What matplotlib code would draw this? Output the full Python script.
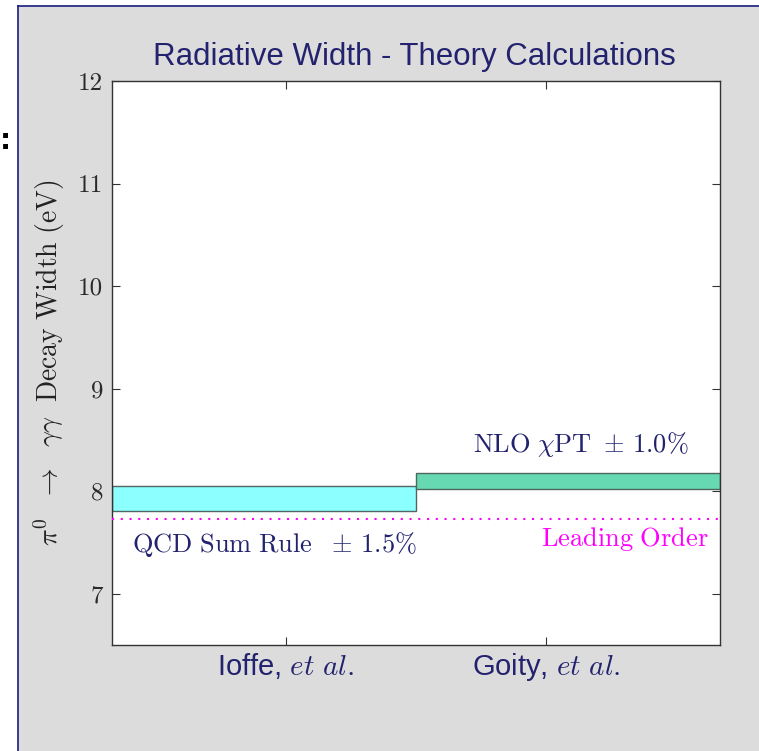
import matplotlib
matplotlib.use("Agg")
import matplotlib.pyplot as plt
from matplotlib.patches import Rectangle
from matplotlib.lines import Line2D
import numpy as np

plt.rcParams['mathtext.fontset'] = 'cm'

# ---- data ----
categories = [r'Ioffe, $et\ al.$', r'Goity, $et\ al.$']
central = [7.93, 8.10]
errors = [0.12, 0.08]
box_labels = [r'$\mathrm{QCD\ Sum\ Rule}\ \ \pm\,1.5\%$', r'$\mathrm{NLO}\ \chi\mathrm{PT}\ \pm\,1.0\%$']
leading_order = 7.725
leading_label = r'$\mathrm{Leading\ Order}$'
yticks = [7, 8, 9, 10, 11, 12]
title = 'Radiative Width - Theory Calculations'
ylabel = r'$\pi^0\ \ \rightarrow\ \ \gamma\gamma\ \ \mathrm{Decay\ Width\ (eV)}$'

# ---- layout ----
W, H = 759, 751
fig = plt.figure(figsize=(W / 100, H / 100), dpi=100, facecolor='white')

navy = '#22226e'
# gray panel
fig.patches.append(Rectangle((17.5 / W, -0.01), 1.0, 1 - 6 / H + 0.01,
                             transform=fig.transFigure, facecolor='#dcdcdc',
                             edgecolor='none', zorder=-2))
fig.lines.append(Line2D([17.5 / W, 17.5 / W], [0, 1 - 6 / H], transform=fig.transFigure,
                        color='#1a1a80', lw=1.2, zorder=-1))
fig.lines.append(Line2D([17.5 / W, 1], [1 - 6 / H, 1 - 6 / H], transform=fig.transFigure,
                        color='#1a1a80', lw=1.2, zorder=-1))
fig.text(0.0, 1 - 141 / H, ':', fontsize=20, fontweight='bold', color='black',
         va='center', ha='left')

ax = fig.add_axes([111.7 / W, 1 - 645 / H, (720 - 111.7) / W, (645 - 81) / H])
ax.set_zorder(1)
ax.set_facecolor('white')

edges = [0, 3.5, 7]
tick_pos = [2, 5]
colors = ['#8cffff', '#66d9b2']
for i in range(2):
    ax.bar(edges[i], 2 * errors[i], bottom=central[i] - errors[i],
           width=edges[i + 1] - edges[i], align='edge', color=colors[i],
           edgecolor='#4f6662', linewidth=1.0, zorder=2)

ax.axhline(leading_order, color='#ff00ff', linestyle=(0, (1, 3.2)), lw=1.5, zorder=3)

ax.set_xlim(0, 7)
ax.set_ylim(6.5, 12)
ax.set_yticks(yticks)
ax.set_yticklabels([str(v) for v in yticks], fontfamily='cmr10', fontsize=18, color='#2a2a2a')
ax.set_xticks(tick_pos)
ax.set_xticklabels(categories, fontfamily='Liberation Sans', fontsize=21, color=navy)
ax.tick_params(axis='both', direction='in', top=True, right=True, length=6, width=0.8,
               color='#333333')
ax.tick_params(axis='y', pad=6)
ax.tick_params(axis='x', pad=4)
for s in ax.spines.values():
    s.set_color('#333333')
    s.set_linewidth(1.0)

ax.set_ylabel(ylabel, fontsize=20, color='#222222', labelpad=8)

yt = ax.get_yaxis_transform()
ax.text(0.033, 7.405, box_labels[0], transform=yt, fontsize=19, color=navy,
        ha='left', va='baseline')
ax.text(0.948, 8.384, box_labels[1], transform=yt, fontsize=19, color=navy,
        ha='right', va='baseline')
ax.text(0.982, 7.463, leading_label, transform=yt, fontsize=19, color='#ff00ff',
        ha='right', va='baseline')

fig.text(414.5 / W, 1 - 65 / H, title, fontfamily='Liberation Sans', fontsize=22.5,
         color=navy, ha='center', va='baseline')

fig.savefig('out.png', dpi=100, facecolor='white')
